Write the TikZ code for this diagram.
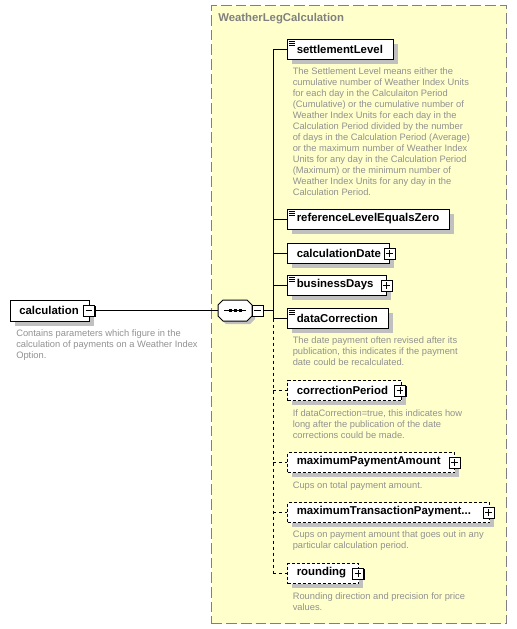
\documentclass[tikz,border=0pt]{standalone}
\usepackage{fontspec}
\setmainfont{Liberation Sans}
\usetikzlibrary{calc,shadows}
\definecolor{yel}{RGB}{255,255,204}
\definecolor{bord}{RGB}{128,128,128}
\definecolor{desc}{RGB}{145,145,145}
\definecolor{shad}{RGB}{192,192,192}
\newcommand\elbox[6][]{\node[ebox,#1,minimum width={(#5-#3)*0.75pt},minimum height={(#6-#4)*0.75pt}] (#2) at (#3,#4) {};}
\newcommand\docicon[1]{\draw[line width=0.75pt] ($(#1.north west)+(2,2.5)$) -- ++(6,0) ($(#1.north west)+(2,4.5)$) -- ++(6,0) ($(#1.north west)+(2,6.5)$) -- ++(6,0);}
\begin{document}
\begin{tikzpicture}[x=0.75pt,y=-0.75pt,
  ebox/.style={draw=black, fill=white, line width=0.75pt, inner sep=0pt, anchor=north west,
    drop shadow={shadow xshift=3pt, shadow yshift=-3pt, fill=shad, opacity=1}},
  optbox/.style={dash pattern=on 2.25pt off 1.5pt},
  ename/.style={font=\bfseries\fontsize{8.55pt}{10pt}\selectfont, inner sep=0pt, anchor=west},
  dtext/.style={font=\fontsize{7pt}{8.25pt}\selectfont, text=desc, align=left, inner sep=0pt, anchor=north west},
  pmbox/.style={draw=black, fill=white, line width=0.75pt, minimum size=8.25pt, inner sep=0pt,
    drop shadow={shadow xshift=0.75pt, shadow yshift=-0.75pt, fill=black, opacity=1}},
  plusbox/.style={pmbox, path picture={\draw[line width=0.75pt]
     ([xshift=1.6pt]path picture bounding box.west) -- ([xshift=-1.6pt]path picture bounding box.east)
     ([yshift=1.6pt]path picture bounding box.south) -- ([yshift=-1.6pt]path picture bounding box.north);}},
  minusbox/.style={pmbox, path picture={\draw[line width=0.75pt]
     ([xshift=1.6pt]path picture bounding box.west) -- ([xshift=-1.6pt]path picture bounding box.east);}},
  conn/.style={line width=0.75pt},
  optconn/.style={line width=0.75pt, dash pattern=on 2.25pt off 2.25pt}
]
\useasboundingbox (0,0) rectangle (517,629);
% group box
\node[draw=bord, fill=yel, line width=1pt, dash pattern=on 8pt off 3pt, minimum width={295*0.75pt}, minimum height={618*0.75pt}, anchor=north west, inner sep=0pt] (grp) at (211,5) {};
\node[font=\bfseries\fontsize{8.5pt}{10pt}\selectfont, text=bord, anchor=west, inner sep=0pt] (title) at (218,18.5) {WeatherLegCalculation};

% calculation
\elbox{calc}{10}{300}{89}{321}
\node[ename] (calct) at (19,310.5) {calculation};
\node[minusbox] (cm) at (89,310.5) {};
\node[dtext] (calcd) at (16,329) {Contains parameters which figure in the\\calculation of payments on a Weather Index\\Option.};

% sequence symbol
\fill[shad] (226,303) -- (250,303) -- (255,308) -- (255,319) -- (250,324) -- (226,324) -- (221,319) -- (221,308) -- cycle;
\draw[line width=0.75pt, fill=white] (223,300) -- (247,300) -- (252,305) -- (252,316) -- (247,321) -- (223,321) -- (218,316) -- (218,305) -- cycle;
\node[minimum width={34*0.75pt}, minimum height={21*0.75pt}, inner sep=0pt] (seq) at (235,310.5) {};
\draw[line width=0.75pt] (224,310.5) -- (246,310.5);
\foreach \dx in {230,235,240} \fill (\dx-1.5,309) rectangle (\dx+1.5,312);
\node[minusbox] (sm) at (257.5,310.5) {};
\draw[conn] (cm.east) -- (seq.west);

% elements
\elbox{sl}{287}{39}{393}{59}
\docicon{sl}
\node[ename] (slt) at (296.5,49) {settlementLevel};
\node[dtext] (sld) at (292.5,67.5) {The Settlement Level means either the\\cumulative number of Weather Index Units\\for each day in the Calculaiton Period\\(Cumulative) or the cumulative number of\\Weather Index Units for each day in the\\Calculation Period divided by the number\\of days in the Calculation Period (Average)\\or the maximum number of Weather Index\\Units for any day in the Calculation Period\\(Maximum) or the minimum number of\\Weather Index Units for any day in the\\Calculation Period.};

\elbox{rl}{287}{209}{449}{229}
\docicon{rl}
\node[ename] (rlt) at (296.5,219) {referenceLevelEqualsZero};

\elbox{cd}{287}{243}{389}{263}
\node[ename] (cdt) at (296.5,253) {calculationDate};
\node[plusbox] (cdp) at (389.5,253.5) {};

\elbox{bd}{287}{275}{386}{295}
\docicon{bd}
\node[ename] (bdt) at (296.5,285) {businessDays};
\node[plusbox] (bdp) at (386.5,285.5) {};

\elbox{dc}{287}{308}{388}{328}
\docicon{dc}
\node[ename] (dct) at (296.5,318) {dataCorrection};
\node[dtext] (dcd) at (292.5,336.5) {The date payment often revised after its\\publication, this indicates if the payment\\date could be recalculated.};

\elbox[optbox]{cp}{287}{380}{401}{400}
\node[ename] (cpt) at (296.5,390) {correctionPeriod};
\node[plusbox] (cpp) at (400,390.5) {};
\node[dtext] (cpd) at (292.5,409.5) {If dataCorrection=true, this indicates how\\long after the publication of the date\\corrections could be made.};

\elbox[optbox]{mp}{287}{452}{454}{472}
\node[ename] (mpt) at (296.5,462) {maximumPaymentAmount};
\node[plusbox] (mpp) at (454.5,462.5) {};
\node[dtext] (mpd) at (292.5,481.5) {Cups on total payment amount.};

\elbox[optbox]{mt}{287}{502}{489}{522}
\node[ename] (mtt) at (296.5,512) {maximumTransactionPayment...};
\node[plusbox] (mtp) at (488.5,512.5) {};
\node[dtext] (mtd) at (292.5,530.5) {Cups on payment amount that goes out in any\\particular calculation period.};

\elbox[optbox]{rd}{287}{563}{358}{583}
\node[ename] (rdt) at (296.5,573) {rounding};
\node[plusbox] (rdp) at (358,573.5) {};
\node[dtext] (rdd) at (292.5,592) {Rounding direction and precision for price\\values.};

% connectors
\coordinate (vx) at (273,0);
\draw[conn] (sm.east) -- (sm.east -| vx);
\draw[conn] (sl.west -| vx) -- (dc.west -| vx);
\draw[optconn] (dc.west -| vx) -- (rd.west -| vx);
\foreach \n in {sl,rl,cd,bd,dc} \draw[conn] (\n.west -| vx) -- (\n.west);
\foreach \n in {cp,mp,mt,rd} \draw[optconn] (\n.west -| vx) -- (\n.west);
\end{tikzpicture}
\end{document}
